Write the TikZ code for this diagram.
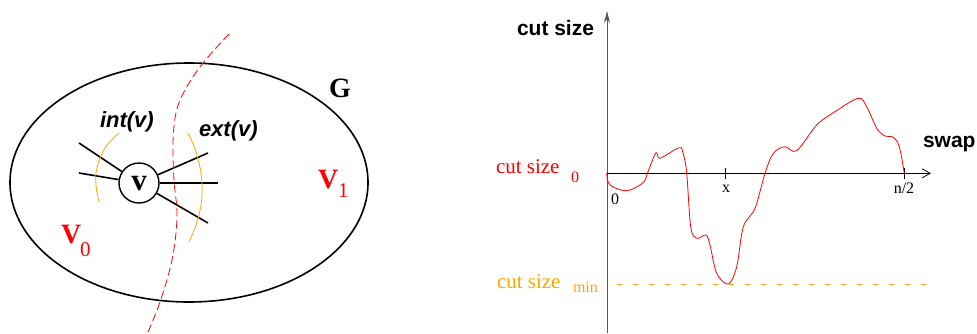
\documentclass[tikz,border=0pt]{standalone}
\usepackage{fontspec}
\setmainfont{Liberation Serif}
\newfontfamily\hv{Liberation Sans}
\usetikzlibrary{arrows.meta,shapes.geometric}
\definecolor{myorange}{RGB}{255,165,0}
\begin{document}
\begin{tikzpicture}[x=1pt,y=-1pt,
  edge/.style={line width=1.6pt},
  arcline/.style={myorange,line width=0.8pt},
  txt/.style={inner sep=0pt,outer sep=0pt},
  bigserif/.style={txt,font=\fontsize{28}{28}\selectfont\bfseries},
  vserif/.style={txt,font=\fontsize{31}{31}\selectfont\bfseries},
  subser/.style={txt,font=\fontsize{21}{21}\selectfont},
  sansb/.style={txt,font=\hv\fontsize{21}{21}\selectfont\bfseries},
  sansbi/.style={txt,font=\hv\fontsize{22}{22}\selectfont\bfseries\itshape},
  serlab/.style={txt,font=\fontsize{21}{21}\selectfont},
  sersub/.style={txt,font=\fontsize{16}{16}\selectfont},
  ticklab/.style={txt,font=\fontsize{16}{16}\selectfont}]
\useasboundingbox (0,0) rectangle (977,333);
% ---------------- left panel
\node[draw,ellipse,line width=1.6pt,minimum width=358pt,minimum height=239pt,inner sep=0pt] (G) at (189,182.5) {};
\node[draw,circle,line width=1.4pt,minimum size=40pt,inner sep=0pt] (v) at (139,183) {};
\node[vserif,anchor=base] (vl) at (139,190) {v};
\coordinate (e1) at (79,143);
\coordinate (e2) at (79,173);
\coordinate (e3) at (208,153);
\coordinate (e4) at (218,183);
\coordinate (e5) at (208,223);
\foreach \e in {e1,e2,e3,e4,e5}{\draw[edge] (v) -- (\e);}
\draw[arcline] plot[smooth,tension=0.7] coordinates {(119,133) (105,148) (97,168) (96,185) (99,202)};
\draw[arcline] plot[smooth,tension=0.7] coordinates {(188,133) (197,155) (202,185) (199,215) (189,242)};
\draw[red,line width=0.8pt,dash pattern=on 8pt off 4pt] plot[smooth,tension=0.6] coordinates {(229,34) (203,63) (185,90) (176,113) (173,143) (174,180) (177,217) (172,260) (160,302) (148,332)};
\node[sansbi,anchor=base west] (intv) at (100,127) {int(v)};
\node[sansbi,anchor=base west] (extv) at (199,136) {ext(v)};
\node[bigserif,anchor=base] (Gl) at (340,97) {G};
\node[bigserif,red,anchor=base west] (V1) at (318,188) {V};
\node[subser,red,anchor=base west] (V1s) at (338,197) {1};
\node[bigserif,red,anchor=base west] (V0) at (61,243) {V};
\node[subser,red,anchor=base west] (V0s) at (80,256) {0};
% ---------------- right panel
\coordinate (ybot) at (607,333);
\coordinate (ytop) at (607,11);
\coordinate (xl) at (607,173.3);
\coordinate (xr) at (931,173.3);
\draw[gray!70!black,line width=1pt,-{Stealth[length=12pt,width=6pt]}] (ybot) -- (ytop);
\draw[line width=0.8pt,-{Straight Barb[length=8pt,width=9pt]}] (xl) -- (xr);
\coordinate (t1) at (725,168);
\coordinate (t1b) at (725,179);
\coordinate (t2) at (904.5,168);
\coordinate (t2b) at (904.5,179);
\draw[line width=0.8pt] (t1) -- (t1b);
\draw[line width=0.8pt] (t2) -- (t2b);
\node[ticklab,anchor=base] (l0) at (615,204) {0};
\node[ticklab,anchor=base] (lx) at (726,192) {x};
\node[ticklab,anchor=base] (ln) at (904,193) {n/2};
\node[sansb,anchor=base west] (ylab) at (517,35) {cut size};
\node[sansb,anchor=base west] (xlab) at (923,147) {swap};
\node[serlab,red,anchor=base west] (c0) at (496,173) {cut size};
\node[sersub,red,anchor=base west] (c0s) at (571,182) {0};
\node[serlab,myorange,anchor=base west] (cm) at (497,288) {cut size};
\node[sersub,myorange,anchor=base west] (cms) at (573,292) {min};
\coordinate (ml) at (617,284);
\coordinate (mr) at (931,284);
\draw[myorange,line width=0.8pt,dash pattern=on 5pt off 11pt] (ml) -- (mr);
\draw[red,line width=0.8pt] plot[smooth,tension=0.55] coordinates {
(606.7,173.3) (610,185) (626.7,190.7) (643,182.7) (648,171.7) (656,152.7) (660,158.3)
(679,147.7) (683,153) (686.7,173) (690.7,226.7) (696.7,238.3) (706,235) (710,245)
(716.7,273.3) (728.3,284) (736.7,266.7) (743.3,226.7) (755,208.3) (765,173.3)
(773.3,153.3) (785,146.7) (796.7,150.7) (816.7,125) (835,111.7) (858.3,98.3)
(866.7,106.7) (876.7,128.3) (885,136) (893.3,137.3) (899.3,146.7) (904.3,173.3)};
\end{tikzpicture}
\end{document}
